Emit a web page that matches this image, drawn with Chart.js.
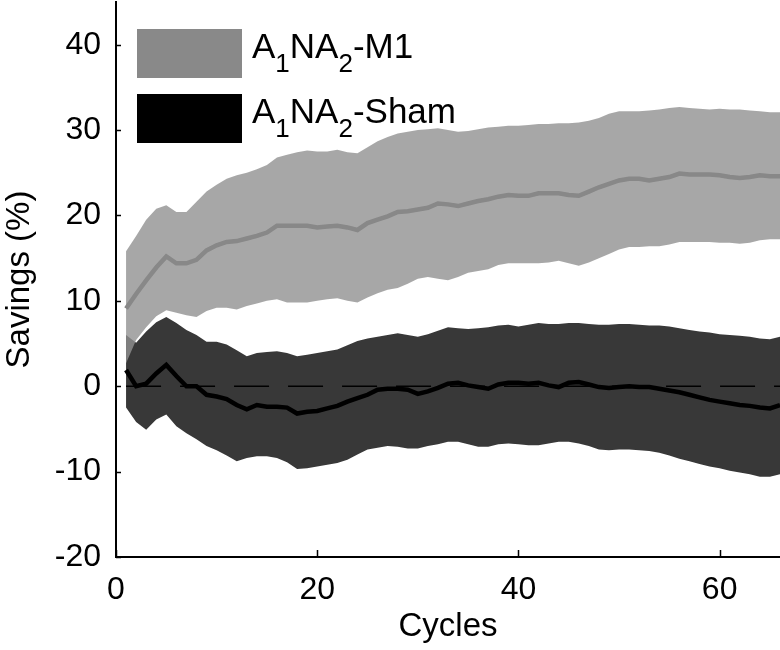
<!DOCTYPE html>
<html>
<head>
<meta charset="utf-8">
<script src="https://cdn.jsdelivr.net/npm/chart.js@4.4.1/dist/chart.umd.min.js"></script>
<style>
  html, body { margin: 0; padding: 0; background: #fff; overflow: hidden; }
  #wrap { width: 780px; height: 650px; position: relative; }
</style>
</head>
<body>
<div id="wrap"><canvas id="chart"></canvas></div>
<script>
const FONT = '"Liberation Sans", Arial, sans-serif';

// cycle number on the x axis
const cycles = [
  1, 2, 3, 4, 5, 6, 7, 8, 9, 10,
  11, 12, 13, 14, 15, 16, 17, 18, 19, 20,
  21, 22, 23, 24, 25, 26, 27, 28, 29, 30,
  31, 32, 33, 34, 35, 36, 37, 38, 39, 40,
  41, 42, 43, 44, 45, 46, 47, 48, 49, 50,
  51, 52, 53, 54, 55, 56, 57, 58, 59, 60,
  61, 62, 63, 64, 65, 66];

// A1NA2-M1 : mean and band
const m1Mean = [
  9.1, 10.8, 12.4, 13.9, 15.2, 14.4, 14.4, 14.8, 15.9, 16.5,
  16.9, 17.0, 17.3, 17.6, 18.0, 18.8, 18.8, 18.8, 18.8, 18.6,
  18.7, 18.8, 18.6, 18.3, 19.1, 19.5, 19.9, 20.4, 20.5, 20.7,
  20.9, 21.4, 21.3, 21.1, 21.4, 21.7, 21.9, 22.2, 22.4, 22.3,
  22.3, 22.6, 22.6, 22.6, 22.4, 22.3, 22.8, 23.3, 23.7, 24.1,
  24.3, 24.3, 24.1, 24.3, 24.5, 24.9, 24.8, 24.8, 24.8, 24.7,
  24.5, 24.4, 24.5, 24.7, 24.6, 24.6];
const m1Upper = [
  15.8, 17.6, 19.5, 20.8, 21.2, 20.4, 20.4, 21.6, 22.8, 23.6,
  24.3, 24.7, 25.0, 25.4, 25.9, 26.8, 27.1, 27.4, 27.6, 27.5,
  27.5, 27.7, 27.4, 27.3, 28.0, 28.7, 29.2, 29.6, 29.8, 30.0,
  30.1, 30.2, 30.0, 29.8, 29.9, 30.1, 30.3, 30.4, 30.5, 30.5,
  30.6, 30.7, 30.7, 30.8, 30.8, 30.9, 31.1, 31.4, 31.9, 32.2,
  32.2, 32.2, 32.3, 32.4, 32.6, 32.7, 32.6, 32.5, 32.4, 32.5,
  32.4, 32.4, 32.3, 32.2, 32.1, 32.1];
const m1Lower = [
  2.7, 5.4, 6.9, 8.2, 8.9, 8.6, 8.3, 8.1, 8.8, 9.2,
  9.2, 9.0, 9.4, 9.7, 10.0, 10.2, 9.8, 9.8, 9.8, 10.0,
  10.2, 10.3, 10.0, 9.8, 10.4, 10.9, 11.3, 11.5, 12.0, 12.6,
  12.8, 12.6, 12.4, 12.8, 13.3, 13.5, 13.7, 14.2, 14.4, 14.4,
  14.4, 14.4, 14.5, 14.7, 14.4, 14.1, 14.5, 15.0, 15.5, 16.0,
  16.3, 16.3, 16.4, 16.4, 16.6, 16.9, 16.9, 16.9, 16.9, 16.8,
  16.8, 16.7, 16.8, 17.1, 17.2, 17.2];

// A1NA2-Sham : mean and band
const shamMean = [
  1.9, 0.0, 0.3, 1.5, 2.5, 1.2, 0.0, 0.0, -1.0, -1.2,
  -1.5, -2.2, -2.7, -2.2, -2.4, -2.4, -2.5, -3.2, -3.0, -2.9,
  -2.6, -2.3, -1.8, -1.4, -1.0, -0.4, -0.3, -0.3, -0.4, -0.9,
  -0.6, -0.2, 0.3, 0.4, 0.1, -0.1, -0.3, 0.2, 0.4, 0.4,
  0.3, 0.4, 0.1, -0.1, 0.4, 0.5, 0.2, -0.1, -0.2, -0.1,
  0.0, -0.1, -0.1, -0.3, -0.5, -0.7, -1.0, -1.3, -1.6, -1.8,
  -2.0, -2.2, -2.3, -2.5, -2.6, -2.2];
const shamUpper = [
  6.0, 5.1, 6.4, 7.5, 8.1, 7.4, 6.6, 6.0, 5.2, 5.2,
  4.9, 4.2, 3.5, 3.9, 4.0, 4.1, 3.9, 3.5, 3.7, 3.9,
  4.1, 4.3, 4.8, 5.3, 5.6, 5.8, 6.0, 6.2, 6.0, 5.8,
  6.1, 6.5, 6.9, 6.8, 6.7, 6.8, 6.9, 7.1, 7.2, 7.0,
  7.2, 7.4, 7.3, 7.3, 7.4, 7.4, 7.3, 7.2, 7.2, 7.3,
  7.3, 7.2, 7.1, 7.1, 7.0, 6.8, 6.6, 6.4, 6.3, 6.1,
  6.0, 5.9, 5.8, 5.6, 5.5, 5.8];
const shamLower = [
  -2.5, -4.2, -5.1, -3.9, -3.3, -4.7, -5.5, -6.2, -7.0, -7.5,
  -8.1, -8.8, -8.4, -8.2, -8.2, -8.4, -8.9, -9.7, -9.6, -9.4,
  -9.2, -9.0, -8.6, -8.0, -7.4, -7.2, -7.0, -7.1, -7.3, -7.3,
  -7.0, -6.8, -6.5, -6.5, -6.8, -7.1, -7.1, -6.8, -6.7, -6.8,
  -6.9, -6.9, -6.7, -6.5, -6.5, -6.7, -7.0, -7.4, -7.5, -7.4,
  -7.4, -7.5, -7.6, -7.8, -8.1, -8.5, -8.8, -9.1, -9.4, -9.6,
  -9.9, -10.1, -10.3, -10.6, -10.6, -10.3];

const zeroLevel = 0;
const xTicks = [0, 20, 40, 60];
const yTicks = [-20, -10, 0, 10, 20, 30, 40];

// legend text, [text, isSubscript]
const legendItems = [
  { parts: [['A', false], ['1', true], ['NA', false], ['2', true], ['-M1', false]], color: '#898989' },
  { parts: [['A', false], ['1', true], ['NA', false], ['2', true], ['-Sham', false]], color: '#000000' }
];

const toPoints = ys => ys.map((y, i) => ({ x: cycles[i], y: y }));

const axisMarks = {
  id: 'axisMarks',
  afterDraw(chart) {
    const { ctx, chartArea, scales } = chart;
    ctx.save();
    ctx.strokeStyle = '#000';
    ctx.lineWidth = 1.5;
    ctx.beginPath();
    scales.y.ticks.forEach(t => {
      const py = Math.round(scales.y.getPixelForValue(t.value)) + 0.5;
      ctx.moveTo(chartArea.left, py);
      ctx.lineTo(chartArea.left + 5, py);
    });
    scales.x.ticks.forEach(t => {
      const px = Math.round(scales.x.getPixelForValue(t.value)) + 0.5;
      ctx.moveTo(px, chartArea.bottom);
      ctx.lineTo(px, chartArea.bottom - 7);
    });
    ctx.stroke();

    // legend
    legendItems.forEach((item, i) => {
      const boxX = chartArea.left + 21;
      const boxY = chartArea.top + 27 + i * 65;
      ctx.fillStyle = item.color;
      ctx.fillRect(boxX, boxY, 105, 49);
      let tx = chartArea.left + 136;
      const base = chartArea.top + 56 + i * 65;
      ctx.fillStyle = '#000';
      ctx.textBaseline = 'alphabetic';
      ctx.textAlign = 'left';
      item.parts.forEach(([txt, sub]) => {
        ctx.font = (sub ? '26px ' : '35px ') + FONT;
        ctx.fillText(txt, tx, sub ? base + 14 : base);
        tx += ctx.measureText(txt).width;
      });
    });
    ctx.restore();
  }
};

const ctx = document.getElementById('chart');
const chart = new Chart(ctx, {
  type: 'line',
  data: {
    datasets: [
      { label: 'A1NA2-M1', data: toPoints(m1Mean), borderColor: '#888888', borderWidth: 4.5, fill: false, order: 1 },
      { label: 'M1 upper', data: toPoints(m1Upper), borderWidth: 0, borderColor: 'rgba(0,0,0,0)',
        backgroundColor: 'rgba(145,145,145,0.8)', fill: '+1', order: 2 },
      { label: 'M1 lower', data: toPoints(m1Lower), borderWidth: 0, borderColor: 'rgba(0,0,0,0)', fill: false, order: 2 },
      { label: 'A1NA2-Sham', data: toPoints(shamMean), borderColor: '#000000', borderWidth: 4.5, fill: false, order: 3 },
      { label: 'zero', data: [{ x: cycles[0], y: zeroLevel }, { x: cycles[cycles.length - 1], y: zeroLevel }],
        borderColor: '#000000', borderWidth: 1.5, borderDash: [35, 19], fill: false, order: 4 },
      { label: 'Sham upper', data: toPoints(shamUpper), borderWidth: 0, borderColor: 'rgba(0,0,0,0)',
        backgroundColor: '#383838', fill: '+1', order: 5 },
      { label: 'Sham lower', data: toPoints(shamLower), borderWidth: 0, borderColor: 'rgba(0,0,0,0)', fill: false, order: 5 }
    ]
  },
  options: {
    responsive: true,
    maintainAspectRatio: false,
    animation: false,
    devicePixelRatio: 1,
    layout: { padding: { top: 2, right: 0, bottom: 0, left: 0 } },
    elements: { point: { radius: 0 }, line: { tension: 0 } },
    plugins: { legend: { display: false }, tooltip: { enabled: false } },
    scales: {
      x: {
        type: 'linear', min: 0, max: 66,
        grid: { display: false, drawTicks: false },
        border: { display: true, color: '#000', width: 2 },
        ticks: { color: '#000', font: { family: FONT, size: 32 }, padding: 14 },
        afterBuildTicks: s => { s.ticks = xTicks.map(v => ({ value: v })); },
        afterFit: s => { s.height = 93; s.paddingLeft = 0; s.paddingRight = 0; },
        title: { display: true, text: 'Cycles', color: '#000', font: { family: FONT, size: 33 }, padding: { top: 0, bottom: 3 } }
      },
      y: {
        type: 'linear', min: -20, max: 45,
        grid: { display: false, drawTicks: false },
        border: { display: true, color: '#000', width: 2 },
        ticks: { color: '#000', font: { family: FONT, size: 32 }, padding: 15 },
        afterBuildTicks: s => { s.ticks = yTicks.map(v => ({ value: v })); },
        afterFit: s => { s.width = 116; s.paddingTop = 0; s.paddingBottom = 0; },
        title: { display: true, text: 'Savings (%)', color: '#000', font: { family: FONT, size: 33 }, padding: { top: 0, bottom: 0 } }
      }
    }
  },
  plugins: [axisMarks]
});
</script>
</body>
</html>
